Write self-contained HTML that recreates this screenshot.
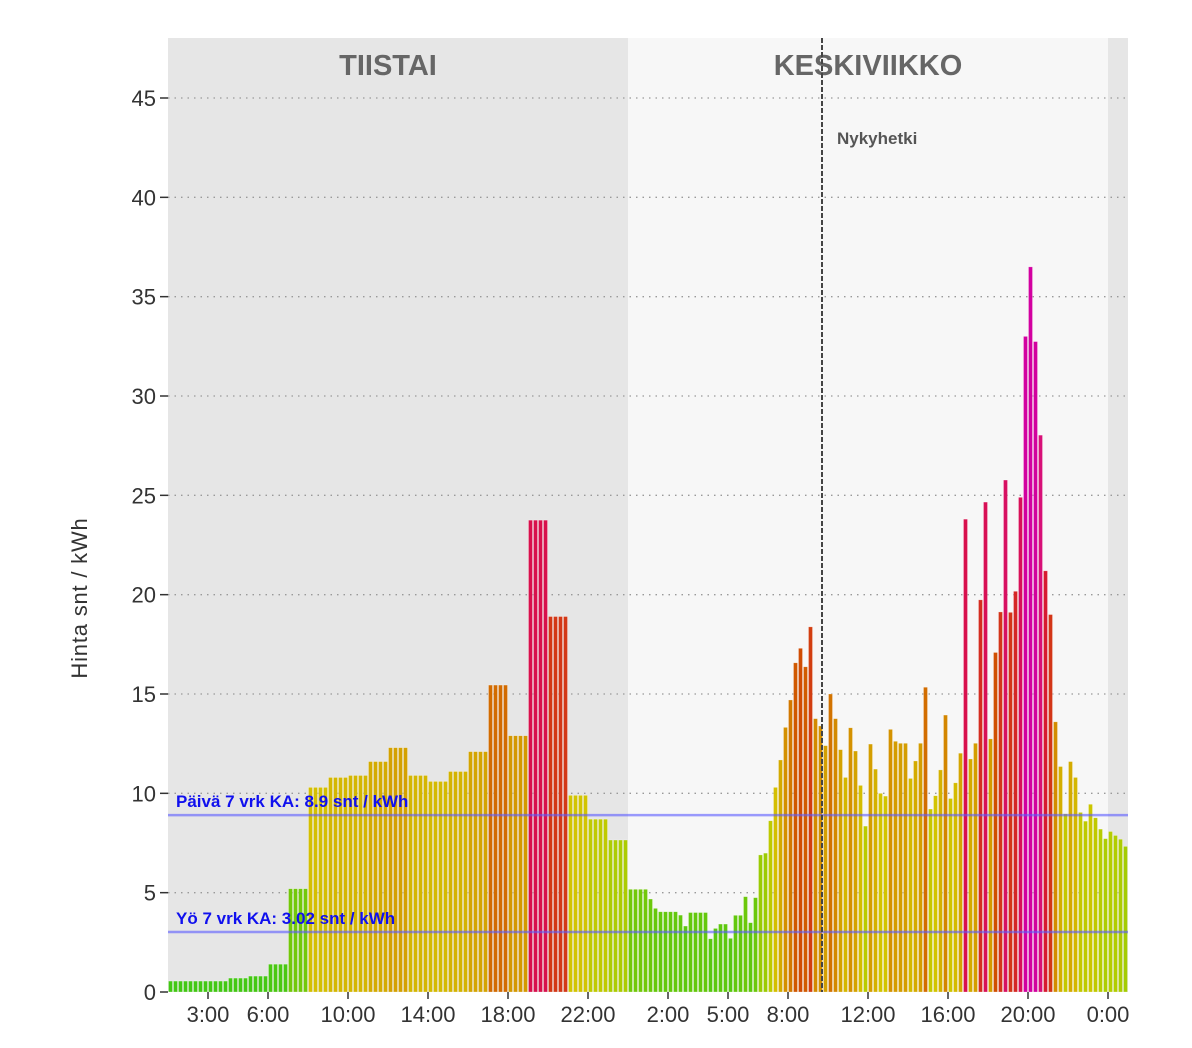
<!DOCTYPE html>
<html><head><meta charset="utf-8"><style>
html,body{margin:0;padding:0;background:#fff;}
svg{display:block;font-family:"Liberation Sans",sans-serif;}
</style></head><body>
<svg id="chart" width="1192" height="1048">
<g id="bg"></g><g id="grid"></g><g id="bars"></g><g id="overlay"></g><g id="axes"></g>
</svg>
<script>
// Tuesday hourly prices starting 1:00 (23 hours)
const tuesdayHours = [1,2,3,4,5,6,7,8,9,10,11,12,13,14,15,16,17,18,19,20,21,22,23];
const tuesdayValues = [0.55,0.55,0.55,0.7,0.8,1.4,5.2,10.3,10.8,10.9,11.6,12.3,10.9,10.6,11.1,12.1,15.45,12.9,23.75,18.9,9.9,8.7,7.65];
// Wednesday 15-min prices from 0:00 (100 quarters)
const wednesdayValues = [5.17,5.17,5.17,5.17,4.68,4.21,4.04,4.04,4.04,4.04,3.87,3.32,4.0,4.0,4.0,4.0,2.68,3.2,3.42,3.42,2.7,3.86,3.86,4.8,3.49,4.75,6.9,6.99,8.62,10.3,11.68,13.32,14.7,16.57,17.3,16.37,18.38,13.76,13.39,12.4,15.0,13.76,12.2,10.8,13.3,12.13,10.4,8.35,12.48,11.22,10.0,9.86,13.22,12.62,12.52,12.52,10.75,11.63,12.52,15.34,9.21,9.88,11.18,13.94,9.74,10.53,12.02,23.8,11.73,12.52,19.74,24.66,12.74,17.09,19.13,25.77,19.11,20.17,24.9,33.0,36.5,32.74,28.03,21.2,19.0,13.6,11.35,8.97,11.6,10.8,9.04,8.6,9.45,8.77,8.2,7.72,8.08,7.88,7.69,7.33];
const yTicks = [0,5,10,15,20,25,30,35,40,45];
const xTickHours = [3,6,10,14,18,22,26,29,32,36,40,44,48];
const xTickLabels = ["3:00","6:00","10:00","14:00","18:00","22:00","2:00","5:00","8:00","12:00","16:00","20:00","0:00"];
const avgDay = 8.9, avgNight = 3.02;
const nowHour = 33.7;

const NS="http://www.w3.org/2000/svg";
const X0=148, PX_H=20, Y0=992, PX_U=(992-98)/45, LEFT=168, RIGHT=1128, TOP=38;
const xs=h=>X0+h*PX_H, ys=v=>Y0-v*PX_U;
function mk(p,t,a){const e=document.createElementNS(NS,t);for(const k in a)e.setAttribute(k,a[k]);p.appendChild(e);return e;}
const stops=[[0,[60,200,20]],[5,[110,200,10]],[8,[180,205,0]],[10,[212,195,0]],[13,[212,150,0]],[17,[208,80,0]],[22,[216,16,58]],[28,[215,16,120]],[33,[210,0,160]]];
function col(v){for(let i=0;i<stops.length-1;i++){const[a,ca]=stops[i],[b,cb]=stops[i+1];if(v<=b){const t=Math.max(0,(v-a)/(b-a));return`rgb(${ca.map((c,j)=>Math.round(c+(cb[j]-c)*t)).join(',')})`;}}const c=stops[stops.length-1][1];return`rgb(${c})`;}
const bg=document.getElementById('bg'),grid=document.getElementById('grid'),bars=document.getElementById('bars'),ov=document.getElementById('overlay'),ax=document.getElementById('axes');
let r;
r=mk(bg,'rect',{x:LEFT,y:TOP,width:xs(24)-LEFT,height:Y0-TOP,fill:'#e6e6e6'});


r=mk(bg,'rect',{x:xs(24),y:TOP,width:xs(48)-xs(24),height:Y0-TOP,fill:'#f7f7f7'});


r=mk(bg,'rect',{x:xs(48),y:TOP,width:RIGHT-xs(48),height:Y0-TOP,fill:'#e6e6e6'});


let t=mk(bg,'text',{x:388,y:75,'text-anchor':'middle','font-size':29,'font-weight':'bold',fill:'#666'});t.textContent='TIISTAI';


t=mk(bg,'text',{x:868,y:75,'text-anchor':'middle','font-size':29,'font-weight':'bold',fill:'#666'});t.textContent='KESKIVIIKKO';


yTicks.forEach(v=>{
  if(v>0){const l=mk(grid,'line',{x1:LEFT,x2:RIGHT,y1:ys(v),y2:ys(v),stroke:'#999','stroke-width':1.3,'stroke-dasharray':'1.5,5'});
  
  }
  mk(ax,'line',{x1:160,x2:LEFT,y1:ys(v),y2:ys(v),stroke:'#333','stroke-width':1.5});
  const tx=mk(ax,'text',{x:156,y:ys(v)+8,'text-anchor':'end','font-size':22,fill:'#333'});tx.textContent=v;
  
  
});
function bar(h,v){const b=mk(bars,'rect',{x:xs(h)+0.5,y:ys(v),width:4,height:Y0-ys(v),fill:col(v),stroke:'rgba(255,255,255,0.45)','stroke-width':0.6});

}
tuesdayHours.forEach((h,i)=>{for(let q=0;q<4;q++)bar(h+q/4,tuesdayValues[i]);});
wednesdayValues.forEach((v,i)=>bar(24+i/4,v));
[[avgDay,'Päivä 7 vrk KA: 8.9 snt / kWh','day-average'],[avgNight,'Yö 7 vrk KA: 3.02 snt / kWh','night-average']].forEach(([v,s,n])=>{
  const l=mk(ov,'line',{x1:LEFT,x2:RIGHT,y1:ys(v),y2:ys(v),stroke:'rgba(90,90,255,0.6)','stroke-width':2.5});
  
  
  const tx=mk(ov,'text',{x:176,y:ys(v)-8,'font-size':17,'font-weight':'bold',fill:'#1010ee'});tx.textContent=s;
  
  
});
const nl=mk(ov,'line',{x1:xs(nowHour),x2:xs(nowHour),y1:TOP,y2:Y0,stroke:'#444','stroke-width':2,'stroke-dasharray':'5,2'});


const nt=mk(ov,'text',{x:xs(nowHour)+15,y:144,'font-size':17,'font-weight':'bold',fill:'#555'});nt.textContent='Nykyhetki';


xTickHours.forEach((h,i)=>{
  mk(ax,'line',{x1:xs(h),x2:xs(h),y1:Y0,y2:Y0+7,stroke:'#333','stroke-width':1.5});
  const tx=mk(ax,'text',{x:xs(h),y:1022,'text-anchor':'middle','font-size':22,fill:'#333'});tx.textContent=xTickLabels[i];
  
  
});
const yt=mk(ax,'text',{x:0,y:0,transform:'translate(87,598) rotate(-90)','text-anchor':'middle','font-size':22,'letter-spacing':'0.8',fill:'#333'});yt.textContent='Hinta snt / kWh';


</script>
</body></html>
